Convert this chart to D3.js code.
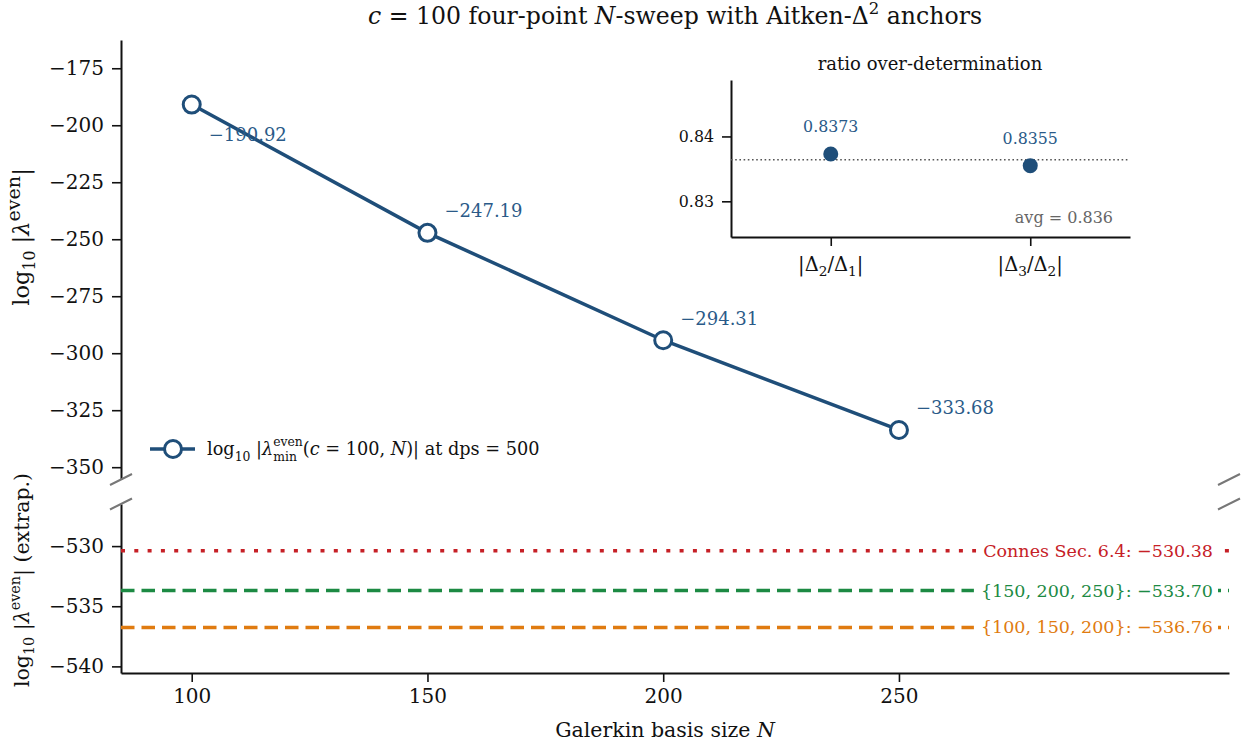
<!DOCTYPE html>
<html>
<head>
<meta charset="utf-8">
<script src="https://cdn.jsdelivr.net/npm/d3@7"></script>
<style>
  body { margin: 0; background: #fff; }
  svg text { font-family: "DejaVu Serif", serif; white-space: pre; }
</style>
</head>
<body>
<script>
// N-sweep, broken y axis, with an inset of the ratio check

const sweepN = [100, 150, 200, 250];
const sweepLog = [-190.92, -247.19, -294.31, -333.68];

const anchorNames = ["Connes Sec. 6.4: ", "{150, 200, 250}: ", "{100, 150, 200}: "];
const anchorValues = [-530.38, -533.70, -536.76];
const anchorColors = ["#c62026", "#1c8a43", "#e07b10"];
const anchorDash = ["4,9.3", "13.5,7", "13.5,7"];

const ratioNames = [["2", "1"], ["3", "2"]];
const ratioValues = [0.8373, 0.8355];

const xTicks = [100, 150, 200, 250];
const topTicks = [-175, -200, -225, -250, -275, -300, -325, -350];
const bottomTicks = [-530, -535, -540];
const insetTicks = [0.83, 0.84];

const blue = "#1f4e79";
const W = 1246, H = 745;

const svg = d3.select("body").append("svg")
  .attr("width", W).attr("height", H);

// lay out a run of text pieces (plain, italic, sub/superscript) one after the other
function richText(parent, x, y, segs, o) {
  const size = o.size;
  const sc = o.supScale || 0.7;
  const supUp = o.supUp || 0.42, subDown = o.subDown || 0.26;
  const g = parent.append("g")
    .attr("transform", `translate(${x},${y})` + (o.rotate ? ` rotate(${o.rotate})` : ""))
    .attr("fill", o.fill || "#111");
  const inner = g.append("g");
  let cx = 0;
  const put = (str, dx, dy, fs, italic) => {
    const t = inner.append("text")
      .attr("x", dx).attr("y", dy)
      .attr("font-size", fs)
      .attr("font-style", italic ? "italic" : null)
      .text(str);
    return t.node().getComputedTextLength();
  };
  segs.forEach(s => {
    if (s.sup !== undefined || s.sub !== undefined) {
      let w = 0;
      if (s.sup !== undefined) w = Math.max(w, put(s.sup, cx, -size * supUp, size * sc));
      if (s.sub !== undefined) w = Math.max(w, put(s.sub, cx, size * subDown, size * 0.7));
      cx += w;
    } else {
      cx += put(s.t, cx, 0, size, s.it);
    }
  });
  const shift = o.anchor === "middle" ? -cx / 2 : o.anchor === "end" ? -cx : 0;
  inner.attr("transform", `translate(${shift},0)`);
  return { g: g, width: cx, left: x + shift };
}

const x = d3.scaleLinear().domain([85, 320]).range([121, 1229]);
const yTop = d3.scaleLinear().domain([-355.4, -162.6]).range([479.5, 40]);
const yBot = d3.scaleLinear().domain([-540.55, -526.5]).range([673, 504]);

function styleAxis(g, fs) {
  g.select(".domain").attr("stroke", "#111").attr("stroke-width", 2);
  g.selectAll(".tick line").attr("stroke", "#111").attr("stroke-width", 1.6);
  g.selectAll(".tick text")
    .attr("fill", "#111")
    .attr("font-size", fs)
    .attr("font-family", "DejaVu Serif, serif");
}

// top panel axis
svg.append("g")
  .attr("transform", "translate(121,0)")
  .call(d3.axisLeft(yTop).tickValues(topTicks).tickSize(9).tickSizeOuter(0).tickPadding(8))
  .call(g => styleAxis(g, 20));

// bottom panel axes
svg.append("g")
  .attr("transform", "translate(121,0)")
  .call(d3.axisLeft(yBot).tickValues(bottomTicks).tickSize(9).tickSizeOuter(0).tickPadding(8))
  .call(g => styleAxis(g, 20));

svg.append("g")
  .attr("transform", "translate(0,673)")
  .call(d3.axisBottom(x).tickValues(xTicks).tickSize(9).tickSizeOuter(0).tickPadding(7))
  .call(g => styleAxis(g, 20));

// break marks
[479.5, 504].forEach(yy => {
  [121, 1229].forEach(xx => {
    svg.append("line")
      .attr("x1", xx - 11).attr("y1", yy + 5.5)
      .attr("x2", xx + 11).attr("y2", yy - 5.5)
      .attr("stroke", "#777").attr("stroke-width", 2);
  });
});

// sweep line
const pts = sweepN.map((n, i) => ({ n: n, v: sweepLog[i] }));
svg.append("path")
  .datum(pts)
  .attr("fill", "none")
  .attr("stroke", blue)
  .attr("stroke-width", 3.5)
  .attr("d", d3.line().x(d => x(d.n)).y(d => yTop(d.v)));

svg.selectAll(".pt")
  .data(pts)
  .enter().append("circle")
    .attr("class", "pt")
    .attr("cx", d => x(d.n))
    .attr("cy", d => yTop(d.v))
    .attr("r", 8.5)
    .attr("fill", "#fff")
    .attr("stroke", blue)
    .attr("stroke-width", 3);

const fmt2 = d3.format(".2f");
svg.selectAll(".ptlab")
  .data(pts)
  .enter().append("text")
    .attr("class", "ptlab")
    .attr("x", d => x(d.n) + 17)
    .attr("y", (d, i) => yTop(d.v) + (i === 0 ? 36 : -15.5))
    .attr("font-size", 18)
    .attr("fill", "#2a5a88")
    .text(d => fmt2(d.v));

// legend
svg.append("line")
  .attr("x1", 150).attr("x2", 195).attr("y1", 449).attr("y2", 449)
  .attr("stroke", blue).attr("stroke-width", 3.5);
svg.append("circle")
  .attr("cx", 173).attr("cy", 449).attr("r", 8.5)
  .attr("fill", "#fff").attr("stroke", blue).attr("stroke-width", 3);
richText(svg, 207, 455, [
  { t: "log" }, { sub: "10" }, { t: " |" }, { t: "λ", it: true },
  { sup: "even", sub: "min" }, { t: "(" }, { t: "c", it: true }, { t: " = 100, " },
  { t: "N", it: true }, { t: ")| at dps = 500" }
], { size: 17.7, supUp: 0.5, subDown: 0.34 });

// extrapolated anchors
anchorValues.forEach((v, i) => {
  svg.append("line")
    .attr("x1", x(85)).attr("x2", x(320))
    .attr("y1", yBot(v)).attr("y2", yBot(v))
    .attr("stroke", anchorColors[i])
    .attr("stroke-width", 3.5)
    .attr("stroke-dasharray", anchorDash[i]);
  const lab = svg.append("text")
    .attr("x", 1213).attr("y", yBot(v) + 6)
    .attr("text-anchor", "end")
    .attr("font-size", 17.5)
    .attr("fill", anchorColors[i])
    .text(anchorNames[i] + fmt2(v));
  const bb = lab.node().getBBox();
  svg.insert("rect", function() { return lab.node(); })
    .attr("x", bb.x - 7).attr("y", bb.y - 1)
    .attr("width", bb.width + 12).attr("height", bb.height + 2)
    .attr("fill", "#fff");
});

// titles and axis labels
richText(svg, 675, 24, [
  { t: "c", it: true }, { t: " = 100 four-point " }, { t: "N", it: true },
  { t: "-sweep with Aitken-Δ" }, { sup: "2" }, { t: " anchors" }
], { size: 23.6, anchor: "middle" });

richText(svg, 665, 737, [
  { t: "Galerkin basis size " }, { t: "N", it: true }
], { size: 20.5, anchor: "middle" });

richText(svg, 29, 237, [
  { t: "log" }, { sub: "10" }, { t: " |" }, { t: "λ", it: true }, { sup: "even" }, { t: "|" }
], { size: 22.5, anchor: "middle", rotate: -90, supScale: 0.85 });

richText(svg, 29, 580, [
  { t: "log" }, { sub: "10" }, { t: " |" }, { t: "λ", it: true }, { sup: "even" }, { t: "| (extrap.)" }
], { size: 20.5, anchor: "middle", rotate: -90 });

// inset: ratio over-determination
const xi = d3.scaleLinear().domain([-0.5, 1.5]).range([731, 1130]);
const yi = d3.scaleLinear().domain([0.8245, 0.8487]).range([237, 80]);
const ratioAvg = d3.mean(ratioValues);

const inset = svg.append("g");
inset.append("g")
  .attr("transform", "translate(731,0)")
  .call(d3.axisLeft(yi).tickValues(insetTicks).tickFormat(d3.format(".2f"))
    .tickSize(9).tickSizeOuter(0).tickPadding(8))
  .call(g => styleAxis(g, 15.8));
inset.append("g")
  .attr("transform", "translate(0,237)")
  .call(d3.axisBottom(xi).tickValues([0, 1]).tickFormat(() => "")
    .tickSize(9).tickSizeOuter(0))
  .call(g => styleAxis(g, 15.8));

ratioNames.forEach((r, i) => {
  richText(inset, xi(i), 271, [
    { t: "|Δ" }, { sub: r[0] }, { t: "/Δ" }, { sub: r[1] }, { t: "|" }
  ], { size: 19.5, anchor: "middle" });
});

inset.append("line")
  .attr("x1", 731).attr("x2", 1130)
  .attr("y1", yi(ratioAvg)).attr("y2", yi(ratioAvg))
  .attr("stroke", "#555").attr("stroke-width", 1.6)
  .attr("stroke-dasharray", "1.6,2.6");

inset.selectAll(".dot")
  .data(ratioValues)
  .enter().append("circle")
    .attr("class", "dot")
    .attr("cx", (d, i) => xi(i))
    .attr("cy", d => yi(d))
    .attr("r", 7.5)
    .attr("fill", blue);

inset.selectAll(".dotlab")
  .data(ratioValues)
  .enter().append("text")
    .attr("class", "dotlab")
    .attr("x", (d, i) => xi(i))
    .attr("y", d => yi(d) - 22)
    .attr("text-anchor", "middle")
    .attr("font-size", 15.8)
    .attr("fill", "#2a5a88")
    .text(d => d3.format(".4f")(d));

inset.append("text")
  .attr("x", 930).attr("y", 70)
  .attr("text-anchor", "middle")
  .attr("font-size", 18)
  .attr("fill", "#111")
  .text("ratio over-determination");

inset.append("text")
  .attr("x", 1113).attr("y", 223)
  .attr("text-anchor", "end")
  .attr("font-size", 16)
  .attr("fill", "#666")
  .text("avg = " + d3.format(".3f")(ratioAvg));
</script>
</body>
</html>
